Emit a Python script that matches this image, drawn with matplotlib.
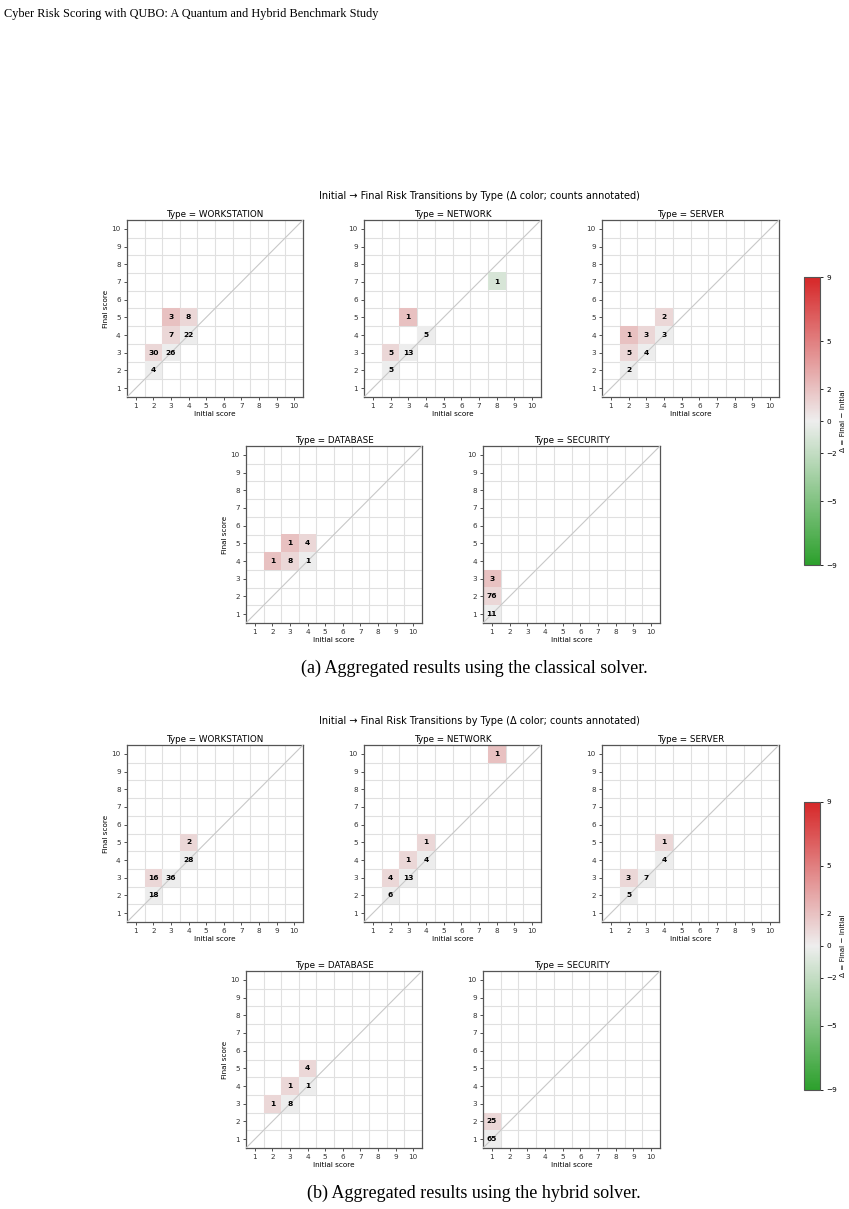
import numpy as np
import matplotlib
matplotlib.use("Agg")
import matplotlib.pyplot as plt
from matplotlib.colors import LinearSegmentedColormap, Normalize
from matplotlib.cm import ScalarMappable

# ---------------- data (initial score, final score, count) ----------------
types = ["WORKSTATION", "NETWORK", "SERVER", "DATABASE", "SECURITY"]

# classical solver
cl_workstation_initial = [2, 2, 3, 3, 3, 4, 4]
cl_workstation_final = [2, 3, 3, 4, 5, 4, 5]
cl_workstation_count = [4, 30, 26, 7, 3, 22, 8]

cl_network_initial = [2, 2, 3, 3, 4, 8]
cl_network_final = [2, 3, 3, 5, 4, 7]
cl_network_count = [5, 5, 13, 1, 5, 1]

cl_server_initial = [2, 2, 2, 3, 3, 4, 4]
cl_server_final = [2, 3, 4, 3, 4, 4, 5]
cl_server_count = [2, 5, 1, 4, 3, 3, 2]

cl_database_initial = [2, 3, 3, 4, 4]
cl_database_final = [4, 4, 5, 4, 5]
cl_database_count = [1, 8, 1, 1, 4]

cl_security_initial = [1, 1, 1]
cl_security_final = [1, 2, 3]
cl_security_count = [11, 76, 3]

# hybrid solver
hy_workstation_initial = [2, 2, 3, 4, 4]
hy_workstation_final = [2, 3, 3, 4, 5]
hy_workstation_count = [18, 16, 36, 28, 2]

hy_network_initial = [2, 2, 3, 3, 4, 4, 8]
hy_network_final = [2, 3, 3, 4, 4, 5, 10]
hy_network_count = [6, 4, 13, 1, 4, 1, 1]

hy_server_initial = [2, 2, 3, 4, 4]
hy_server_final = [2, 3, 3, 4, 5]
hy_server_count = [5, 3, 7, 4, 1]

hy_database_initial = [2, 3, 3, 4, 4]
hy_database_final = [3, 3, 4, 4, 5]
hy_database_count = [1, 8, 1, 1, 4]

hy_security_initial = [1, 1]
hy_security_final = [1, 2]
hy_security_count = [65, 25]

scores = list(range(1, 11))
cbar_ticks = [-9, -5, -2, 0, 2, 5, 9]

classical = {
    "WORKSTATION": (cl_workstation_initial, cl_workstation_final, cl_workstation_count),
    "NETWORK": (cl_network_initial, cl_network_final, cl_network_count),
    "SERVER": (cl_server_initial, cl_server_final, cl_server_count),
    "DATABASE": (cl_database_initial, cl_database_final, cl_database_count),
    "SECURITY": (cl_security_initial, cl_security_final, cl_security_count),
}
hybrid = {
    "WORKSTATION": (hy_workstation_initial, hy_workstation_final, hy_workstation_count),
    "NETWORK": (hy_network_initial, hy_network_final, hy_network_count),
    "SERVER": (hy_server_initial, hy_server_final, hy_server_count),
    "DATABASE": (hy_database_initial, hy_database_final, hy_database_count),
    "SECURITY": (hy_security_initial, hy_security_final, hy_security_count),
}

# ---------------- figure ----------------
W, H = 849, 1209
fig = plt.figure(figsize=(W / 100, H / 100), dpi=100)
fig.patch.set_facecolor("white")

cmap = LinearSegmentedColormap.from_list("delta", ["#2ca02c", "#eeeeee", "#d62728"])
norm = Normalize(vmin=-9, vmax=9)


def add_ax(l, t, r, b):
    return fig.add_axes([l / W, 1 - b / H, (r - l) / W, (b - t) / H])


def fy(y):
    return 1 - y / H


panel_boxes = {
    "WORKSTATION": (127, 220, 303, 397),
    "NETWORK": (364, 220, 541, 397),
    "SERVER": (602, 220, 779, 397),
    "DATABASE": (246, 446, 422, 623),
    "SECURITY": (483, 446, 660, 623),
}
ylabel_types = {"WORKSTATION", "DATABASE"}


def draw_panel(ax, name, data):
    ini, fin, cnt = data
    n = len(scores)
    delta = np.full((n, n), np.nan)
    for i, f, c in zip(ini, fin, cnt):
        if c > 0:
            delta[f - 1, i - 1] = f - i
    ax.imshow(np.ma.masked_invalid(delta), cmap=cmap, norm=norm, origin="lower",
              extent=(0.5, n + 0.5, 0.5, n + 0.5), interpolation="nearest",
              aspect="auto", zorder=1)
    for i, f, c in zip(ini, fin, cnt):
        ax.text(i, f, str(c), ha="center", va="center", fontsize=5.4,
                fontweight="bold", color="black", zorder=4)
    ax.plot([0.5, n + 0.5], [0.5, n + 0.5], color="#c8c8c8", lw=0.8, zorder=3)
    ax.set_xlim(0.5, n + 0.5)
    ax.set_ylim(0.5, n + 0.5)
    ax.set_xticks(scores)
    ax.set_yticks(scores)
    ax.set_xticks(np.arange(1.5, n, 1.0), minor=True)
    ax.set_yticks(np.arange(1.5, n, 1.0), minor=True)
    ax.grid(which="minor", color="#e0e0e0", lw=0.8, zorder=0)
    ax.grid(which="major", visible=False)
    ax.set_axisbelow(True)
    ax.tick_params(which="minor", length=0)
    ax.tick_params(which="major", labelsize=5.2, length=2.5, width=0.6,
                   colors="#333333", pad=2)
    for sp in ax.spines.values():
        sp.set_color("#555555")
        sp.set_linewidth(0.9)
    ax.set_title(f"Type = {name}", fontsize=6.3, pad=2.5)
    ax.set_xlabel("Initial score", fontsize=5.2, labelpad=1.5)
    if name in ylabel_types:
        ax.set_ylabel("Final score", fontsize=5.2, labelpad=2)


def draw_block(data, offset, caption):
    for name in types:
        l, t, r, b = panel_boxes[name]
        ax = add_ax(l, t + offset, r, b + offset)
        draw_panel(ax, name, data[name])
    fig.text(479 / W, fy(196 + offset),
             "Initial \u2192 Final Risk Transitions by Type (\u0394 color; counts annotated)",
             ha="center", va="center", fontsize=7)
    cax = add_ax(804, 277 + offset, 820, 565 + offset)
    sm = ScalarMappable(norm=norm, cmap=cmap)
    cb = fig.colorbar(sm, cax=cax, ticks=cbar_ticks)
    cb.ax.set_yticklabels([f"{t}".replace("-", "\u2212") for t in cbar_ticks])
    cb.ax.tick_params(labelsize=5.2, length=2.5, width=0.6, pad=2)
    cb.outline.set_edgecolor("#555555")
    cb.outline.set_linewidth(0.8)
    cb.set_label("\u0394 = Final \u2212 Initial", fontsize=5.2, labelpad=2)
    fig.text(474 / W, fy(668 + offset), caption, ha="center", va="center",
             fontsize=13, family="Liberation Serif")


draw_block(classical, 0, "(a) Aggregated results using the classical solver.")
draw_block(hybrid, 525, "(b) Aggregated results using the hybrid solver.")

fig.text(4 / W, fy(14), "Cyber Risk Scoring with QUBO: A Quantum and Hybrid Benchmark Study",
         ha="left", va="center", fontsize=8.8, family="Liberation Serif")

fig.savefig("out.png", dpi=100, facecolor="white")
